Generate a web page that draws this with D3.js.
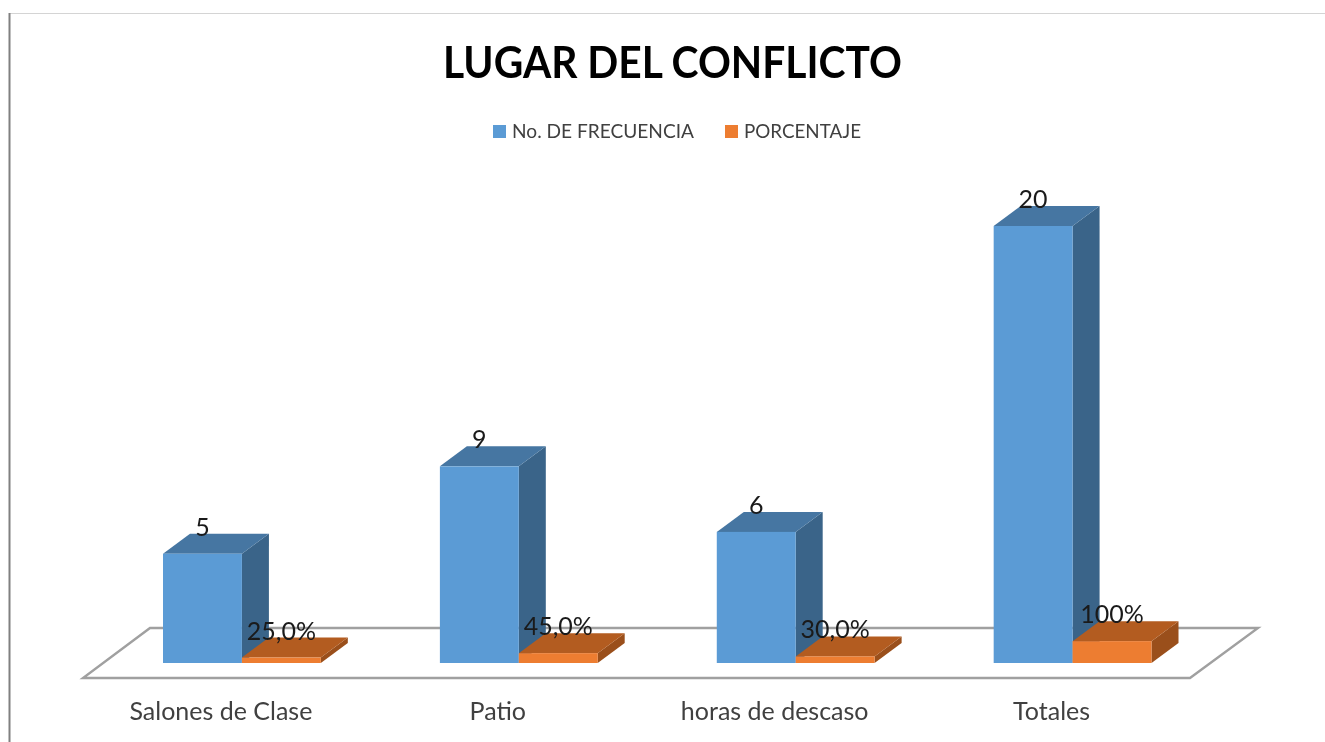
<!DOCTYPE html>
<html>
<head>
<meta charset="utf-8">
<script src="https://cdn.jsdelivr.net/npm/d3@7/dist/d3.min.js"></script>
<style>
html,body{margin:0;padding:0;background:#fff;overflow:hidden}
svg{display:block;filter:blur(0.35px)}
text{font-family:Lato,"Open Sans",sans-serif}
</style>
</head>
<body>
<svg id="c" width="1325" height="742"></svg>
<script>
const categories = ["Salones de Clase", "Patio", "horas de descaso", "Totales"];
const seriesNames = ["No. DE FRECUENCIA", "PORCENTAJE"];
const frecuencia = [5, 9, 6, 20];
const porcentaje = [0.25, 0.45, 0.30, 1];
const frecuenciaLabels = ["5", "9", "6", "20"];
const porcentajeLabels = ["25,0%", "45,0%", "30,0%", "100%"];
const faceColors = ["#5B9BD5", "#ED7D31"];
const topColors = ["#4676A2", "#B35C20"];
const sideColors = ["#3A6489", "#9A4F1B"];
const title = "LUGAR DEL CONFLICTO";

const W = 1325, H = 742;
const depthX = 27, depthY = 20;
const svg = d3.select("#c");

// frame
svg.append("line").attr("x1",10).attr("x2",W).attr("y1",13.5).attr("y2",13.5).attr("stroke","#d4d4d4").attr("stroke-width",1);
svg.append("line").attr("x1",9.5).attr("x2",9.5).attr("y1",13).attr("y2",H).attr("stroke","#808080").attr("stroke-width",2);

const x0 = d3.scaleBand().domain(categories).range([163,1151.5]).paddingInner(0.43);
const x1 = d3.scaleBand().domain(seriesNames).range([0,x0.bandwidth()]);
const y = d3.scaleLinear().domain([0,20]).range([663,226]);

// floor
const floor = d3.path();
floor.moveTo(83,678); floor.lineTo(1190,678); floor.lineTo(1258,628); floor.lineTo(150,628); floor.closePath();
svg.append("path").attr("d",floor.toString()).attr("fill","#fff").attr("stroke","#a0a0a0").attr("stroke-width",2.4);

const poly = pts => d3.line()(pts) + "Z";

const series = [
  {name:seriesNames[0], values:frecuencia, labels:frecuenciaLabels},
  {name:seriesNames[1], values:porcentaje, labels:porcentajeLabels}
];

series.forEach((s,si) => {
  const g = svg.append("g");
  const bars = g.selectAll("g").data(categories).join("g");
  const left = c => x0(c) + x1(s.name);
  const right = c => left(c) + x1.bandwidth();
  const top = (c,i) => y(s.values[i]);
  bars.append("path").attr("fill",sideColors[si])
    .attr("d",(c,i)=>poly([[right(c),y(0)],[right(c)+depthX,y(0)-depthY],[right(c)+depthX,top(c,i)-depthY],[right(c),top(c,i)]]));
  bars.append("path").attr("fill",topColors[si])
    .attr("d",(c,i)=>poly([[left(c),top(c,i)],[left(c)+depthX,top(c,i)-depthY],[right(c)+depthX,top(c,i)-depthY],[right(c),top(c,i)]]));
  bars.append("rect").attr("fill",faceColors[si])
    .attr("x",left).attr("y",top).attr("width",x1.bandwidth()).attr("height",(c,i)=>y(0)-top(c,i));
});

// data labels on top of all bars
series.forEach(s => {
  svg.append("g").selectAll("text").data(categories).join("text")
    .attr("x",c=>x0(c)+x1(s.name)+x1.bandwidth()/2)
    .attr("y",(c,i)=>y(s.values[i])-18)
    .attr("text-anchor","middle").attr("font-size",25).attr("fill","#1a1a1a")
    .text((c,i)=>s.labels[i]);
});

// category axis
const axis = d3.axisBottom(x0).tickSize(0).tickPadding(0);
const ag = svg.append("g").attr("transform","translate(-21,702)").call(axis);
ag.select(".domain").remove();
ag.selectAll("text").attr("font-size",25).attr("fill","#404040").style("font-family","Lato,'Open Sans',sans-serif");

// title
svg.append("text").attr("x",672.5).attr("y",78).attr("text-anchor","middle")
  .attr("font-size",43).attr("font-weight",700).attr("fill","#000")
  .attr("textLength",459).attr("lengthAdjust","spacingAndGlyphs").text(title);

// legend
const legendX = [493,725], legendTextX = [512,744], legendW = [182,117];
const lg = svg.append("g").selectAll("g").data(seriesNames).join("g");
lg.append("rect").attr("x",(d,i)=>legendX[i]).attr("y",125).attr("width",13).attr("height",13).attr("fill",(d,i)=>faceColors[i]);
lg.append("text").attr("x",(d,i)=>legendTextX[i]).attr("y",138).attr("font-size",19).attr("fill","#404040")
  .attr("textLength",(d,i)=>legendW[i]).attr("lengthAdjust","spacingAndGlyphs").text(d=>d);
</script>
</body>
</html>
